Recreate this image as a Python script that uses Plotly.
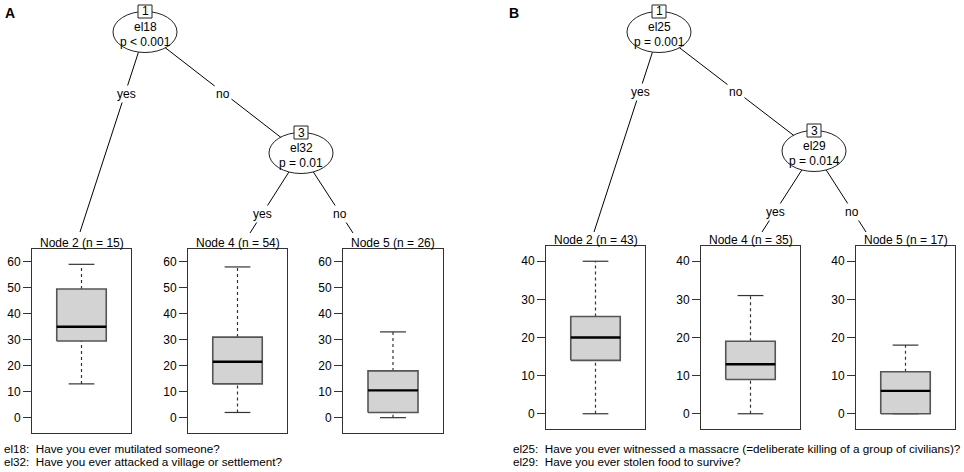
import plotly.graph_objects as go

W, H = 964, 472

# ---------------- data ----------------
nodes_A = ["Node 2", "Node 4", "Node 5"]
n_A = [15, 54, 26]
lower_A = [13, 2, 0]
q1_A = [29.5, 13, 2]
median_A = [35, 21.5, 10.5]
q3_A = [49.5, 31, 18]
upper_A = [59, 58, 33]
ticks_A = [0, 10, 20, 30, 40, 50, 60]

nodes_B = ["Node 2", "Node 4", "Node 5"]
n_B = [43, 35, 17]
lower_B = [0, 0, 0]
q1_B = [14, 9, 0]
median_B = [20, 13, 6]
q3_B = [25.5, 19, 11]
upper_B = [40, 31, 18]
ticks_B = [0, 10, 20, 30, 40]

split_vars_A = ["el18", "el32"]
split_p_A = ["p < 0.001", "p = 0.01"]
split_vars_B = ["el25", "el29"]
split_p_B = ["p = 0.001", "p = 0.014"]
notes_A = ["el18:\u00a0 Have you ever mutilated someone?",
           "el32:\u00a0 Have you ever attacked a village or settlement?"]
notes_B = ["el25:\u00a0 Have you ever witnessed a massacre (=deliberate killing of a group of civilians)?",
           "el29:\u00a0 Have you ever stolen food to survive?"]

FONT = "Liberation Sans, Arial, sans-serif"


def X(px):
    return px / W


def Y(py):
    return 1 - py / H


fig = go.Figure()
shapes = []
annotations = []

# ---------------- boxplot panels ----------------
panels = [
    dict(xs=[(32, 131), (188, 287), (343, 443)], ytop=249, ybot=433,
         nodes=nodes_A, n=n_A, lo=lower_A, q1=q1_A, med=median_A, q3=q3_A, hi=upper_A,
         ticks=ticks_A, title_y=243),
    dict(xs=[(546, 645), (701, 800), (856, 955)], ytop=246, ybot=429,
         nodes=nodes_B, n=n_B, lo=lower_B, q1=q1_B, med=median_B, q3=q3_B, hi=upper_B,
         ticks=ticks_B, title_y=240),
]

ax = 0
for P in panels:
    all_vals = P["lo"] + P["hi"]
    dmin, dmax = min(all_vals), max(all_vals)
    span = dmax - dmin
    yr = [dmin - 0.1 * span, dmax + 0.1 * span]
    for i, (x0, x1) in enumerate(P["xs"]):
        ax += 1
        xa = "x" if ax == 1 else f"x{ax}"
        ya = "y" if ax == 1 else f"y{ax}"
        lo, q1, md, q3, hi = P["lo"][i], P["q1"][i], P["med"][i], P["q3"][i], P["hi"][i]
        bw, cw = 0.5, 0.26
        # whiskers (dashed)
        fig.add_trace(go.Scatter(x=[0, 0], y=[q3, hi], mode="lines", xaxis=xa, yaxis=ya,
                                 line=dict(color="#333333", width=1.2, dash="3px,3px"),
                                 showlegend=False, hoverinfo="skip"))
        fig.add_trace(go.Scatter(x=[0, 0], y=[lo, q1], mode="lines", xaxis=xa, yaxis=ya,
                                 line=dict(color="#333333", width=1.2, dash="3px,3px"),
                                 showlegend=False, hoverinfo="skip"))
        # caps
        fig.add_trace(go.Scatter(x=[-cw, cw, None, -cw, cw], y=[hi, hi, None, lo, lo],
                                 mode="lines", xaxis=xa, yaxis=ya,
                                 line=dict(color="#333333", width=1.2),
                                 showlegend=False, hoverinfo="skip"))
        # box
        fig.add_trace(go.Scatter(x=[-bw, bw, bw, -bw, -bw], y=[q1, q1, q3, q3, q1],
                                 mode="lines", fill="toself", fillcolor="#D3D3D3",
                                 xaxis=xa, yaxis=ya,
                                 line=dict(color="#555555", width=1.6),
                                 showlegend=False, hoverinfo="skip"))
        # median
        fig.add_trace(go.Scatter(x=[-bw, bw], y=[md, md], mode="lines", xaxis=xa, yaxis=ya,
                                 line=dict(color="black", width=2.4),
                                 showlegend=False, hoverinfo="skip"))
        xkey = "xaxis" if ax == 1 else f"xaxis{ax}"
        ykey = "yaxis" if ax == 1 else f"yaxis{ax}"
        fig.layout[xkey] = dict(domain=[X(x0), X(x1)], range=[-1, 1], anchor=ya,
                                showticklabels=False, ticks="", showgrid=False,
                                zeroline=False, showline=True, mirror=True,
                                linecolor="#333333", linewidth=1, fixedrange=True)
        fig.layout[ykey] = dict(domain=[Y(P["ybot"]), Y(P["ytop"])], range=yr, anchor=xa,
                                tickvals=P["ticks"], ticks="outside", ticklen=8,
                                tickcolor="#333333", tickwidth=1,
                                tickfont=dict(family=FONT, size=12, color="black"),
                                showgrid=False, zeroline=False, showline=True, mirror=True,
                                linecolor="#333333", linewidth=1, fixedrange=True)
        annotations.append(dict(x=X((x0 + x1) / 2), y=Y(P["title_y"]), xref="paper", yref="paper",
                                text=f"{P['nodes'][i]} (n = {P['n'][i]})", showarrow=False,
                                font=dict(family=FONT, size=12, color="black"),
                                xanchor="center", yanchor="middle"))

# ---------------- tree diagrams ----------------
def line(x0, y0, x1, y1):
    shapes.append(dict(type="line", xref="paper", yref="paper",
                       x0=X(x0), y0=Y(y0), x1=X(x1), y1=Y(y1),
                       line=dict(color="black", width=1), layer="above"))


def inner_node(cx, cy, num, var, p):
    shapes.append(dict(type="circle", xref="paper", yref="paper",
                       x0=X(cx - 32), x1=X(cx + 32), y0=Y(cy - 20.5), y1=Y(cy + 20.5),
                       line=dict(color="#222222", width=1), fillcolor="white", layer="above"))
    shapes.append(dict(type="rect", xref="paper", yref="paper",
                       x0=X(cx - 7), x1=X(cx + 7), y0=Y(cy - 27), y1=Y(cy - 14),
                       line=dict(color="#222222", width=1), fillcolor="white", layer="above"))
    annotations.append(dict(x=X(cx), y=Y(cy - 20.5), xref="paper", yref="paper", text=str(num),
                            showarrow=False, font=dict(family=FONT, size=12, color="black"),
                            xanchor="center", yanchor="middle"))
    annotations.append(dict(x=X(cx), y=Y(cy - 5), xref="paper", yref="paper", text=var,
                            showarrow=False, font=dict(family=FONT, size=12, color="black"),
                            xanchor="center", yanchor="middle"))
    annotations.append(dict(x=X(cx), y=Y(cy + 10), xref="paper", yref="paper", text=p,
                            showarrow=False, font=dict(family=FONT, size=12, color="black"),
                            xanchor="center", yanchor="middle"))


def edge_label(x, y, t):
    annotations.append(dict(x=X(x), y=Y(y), xref="paper", yref="paper", text=t,
                            showarrow=False, bgcolor="white", borderpad=1,
                            font=dict(family=FONT, size=12, color="black"),
                            xanchor="center", yanchor="middle"))


trees = [
    dict(root=(145, 32), n3=(301, 153), ends=[(80, 232), (250, 233), (353, 233)],
         lab=[(126, 94), (223, 94), (262, 214), (340, 214)],
         vars=split_vars_A, ps=split_p_A, letter="A", lx=10, notes=notes_A, nx=2),
    dict(root=(659, 32), n3=(814, 151), ends=[(594, 232), (762, 232), (866, 232)],
         lab=[(640, 92), (736, 92), (775, 212), (852, 212)],
         vars=split_vars_B, ps=split_p_B, letter="B", lx=514, notes=notes_B, nx=511),
]

for T in trees:
    rx, ry = T["root"]
    nx3, ny3 = T["n3"]
    line(rx, ry, T["ends"][0][0], T["ends"][0][1])
    line(rx, ry, nx3, ny3)
    line(nx3, ny3, T["ends"][1][0], T["ends"][1][1])
    line(nx3, ny3, T["ends"][2][0], T["ends"][2][1])
    inner_node(rx, ry, 1, T["vars"][0], T["ps"][0])
    inner_node(nx3, ny3, 3, T["vars"][1], T["ps"][1])
    for (lx, ly), t in zip(T["lab"], ["yes", "no", "yes", "no"]):
        edge_label(lx, ly, t)
    annotations.append(dict(x=X(T["lx"]), y=Y(13), xref="paper", yref="paper", text=f"<b>{T['letter']}</b>",
                            showarrow=False, font=dict(family=FONT, size=14, color="black"),
                            xanchor="center", yanchor="middle"))
    for k, note in enumerate(T["notes"]):
        annotations.append(dict(x=X(T["nx"]), y=Y(448 + 13 * k), xref="paper", yref="paper", text=note,
                                showarrow=False, font=dict(family=FONT, size=11.7, color="black"),
                                xanchor="left", yanchor="middle"))

fig.update_layout(width=W, height=H, margin=dict(l=0, r=0, t=0, b=0),
                  paper_bgcolor="white", plot_bgcolor="white",
                  shapes=shapes, annotations=annotations, showlegend=False)

fig.write_html("out.html", config={"displayModeBar": False},
               post_script="document.body.style.margin='0';document.body.style.overflow='hidden';")
